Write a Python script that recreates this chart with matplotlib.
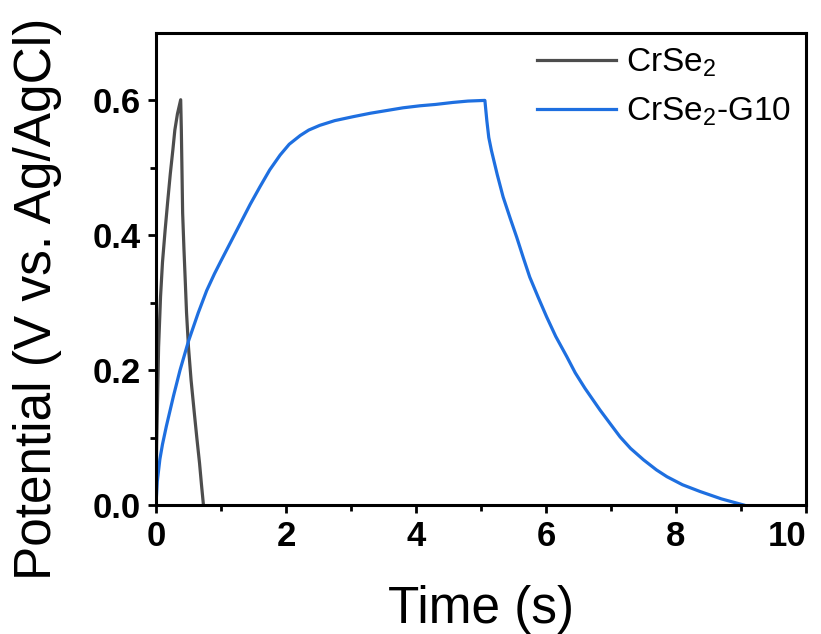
#Galvanostatic charge-discharge curves, CrSe2 vs CrSe2-G10

import numpy as np
import matplotlib
matplotlib.use('Agg')
import matplotlib.pyplot as plt
from matplotlib.ticker import FixedLocator

plt.rcParams['font.family'] = ['Liberation Sans', 'DejaVu Sans']
plt.rcParams['mathtext.fontset'] = 'custom'
plt.rcParams['mathtext.rm'] = 'Liberation Sans'
plt.rcParams['mathtext.it'] = 'Liberation Sans:italic'
plt.rcParams['mathtext.bf'] = 'Liberation Sans:bold'

# CrSe2 (charge then discharge)
t_crse2 = [0.00, 0.005, 0.01, 0.02, 0.04, 0.07, 0.10, 0.14, 0.18, 0.22, 0.26, 0.29, 0.33, 0.38,
           0.39, 0.40, 0.41, 0.43, 0.45, 0.47, 0.50, 0.54, 0.59, 0.63, 0.67, 0.70, 0.73]
v_crse2 = [0.000, 0.050, 0.090, 0.136, 0.234, 0.309, 0.360, 0.407, 0.450, 0.491, 0.527, 0.556, 0.580, 0.601,
           0.556, 0.495, 0.433, 0.380, 0.333, 0.285, 0.234, 0.185, 0.136, 0.098, 0.062, 0.030, 0.000]

# CrSe2-G10 (charge then discharge)
t_g10 = [0.00, 0.02, 0.06, 0.10, 0.16, 0.27, 0.37, 0.50, 0.65, 0.78, 0.90, 1.00, 1.15, 1.30,
         1.45, 1.60, 1.75, 1.91, 2.05, 2.22, 2.35, 2.52, 2.75, 3.04, 3.30, 3.55, 3.80, 4.06,
         4.30, 4.57, 4.80, 5.06,
         5.09, 5.12, 5.16, 5.25, 5.34, 5.45, 5.55, 5.65, 5.75, 5.88, 6.01, 6.15, 6.32, 6.45,
         6.60, 6.83, 7.00, 7.14, 7.30, 7.50, 7.70, 7.86, 8.10, 8.37, 8.70, 9.04]
v_g10 = [0.000, 0.035, 0.068, 0.090, 0.117, 0.162, 0.200, 0.243, 0.285, 0.318, 0.343, 0.362, 0.390, 0.418,
         0.446, 0.472, 0.497, 0.519, 0.535, 0.548, 0.556, 0.563, 0.570, 0.576, 0.581, 0.585, 0.589, 0.592,
         0.594, 0.597, 0.599, 0.600,
         0.570, 0.545, 0.526, 0.490, 0.457, 0.425, 0.397, 0.367, 0.338, 0.308, 0.279, 0.250, 0.220, 0.196,
         0.173, 0.141, 0.119, 0.101, 0.084, 0.067, 0.052, 0.042, 0.030, 0.020, 0.009, 0.000]

labels = ['CrSe$_2$', 'CrSe$_2$-G10']
colors = ['#4d4d4d', '#1e6fe0']

x_major = [0, 2, 4, 6, 8, 10]
x_minor = [1, 3, 5, 7, 9]
y_major = [0.0, 0.2, 0.4, 0.6]
y_minor = [0.1, 0.3, 0.5]

fig = plt.figure(figsize=(8.21, 6.34), dpi=100)
ax = fig.add_axes([0.190, 0.2035, 0.7917, 0.7445])

ax.plot(t_crse2, v_crse2, color=colors[0], lw=2.3, label=labels[0])
ax.plot(t_g10, v_g10, color=colors[1], lw=2.3, label=labels[1])

ax.set_xlim(0, 10)
ax.set_ylim(0, 0.7)
ax.set_xticks(x_major)
ax.set_yticks(y_major)
ax.set_yticklabels(['%.1f' % v for v in y_major])
ax.xaxis.set_minor_locator(FixedLocator(x_minor))
ax.yaxis.set_minor_locator(FixedLocator(y_minor))

for s in ax.spines.values():
    s.set_linewidth(2.2)
ax.tick_params(which='major', direction='out', length=6, width=2, labelsize=25)
ax.tick_params(axis='x', which='major', pad=5)
ax.tick_params(axis='y', which='major', pad=5)
ax.tick_params(which='minor', direction='out', length=4, width=2)
ax.tick_params(top=False, right=False)
for lab in ax.get_xticklabels() + ax.get_yticklabels():
    lab.set_fontweight('bold')
# keep the last x label inside the figure
ax.get_xticklabels()[-1].set_horizontalalignment('right')
ax.get_xticklabels()[-1].set_x(10.05)

# axis titles placed like the Origin export
fig.text(481 / 821, 1 - 610 / 634, 'Time (s)', fontsize=37, ha='center', va='center')
fig.text(38 / 821, 1 - 299 / 634, 'Potential (V vs. Ag/AgCl)', fontsize=37,
         rotation=90, ha='center', va='center')

ax.legend(loc='upper left', frameon=False, fontsize=24, handlelength=2.35,
          handletextpad=0.3, labelspacing=0.52, borderaxespad=0.0,
          bbox_to_anchor=(0.566, 1.0))

fig.savefig('out.png', dpi=100)
